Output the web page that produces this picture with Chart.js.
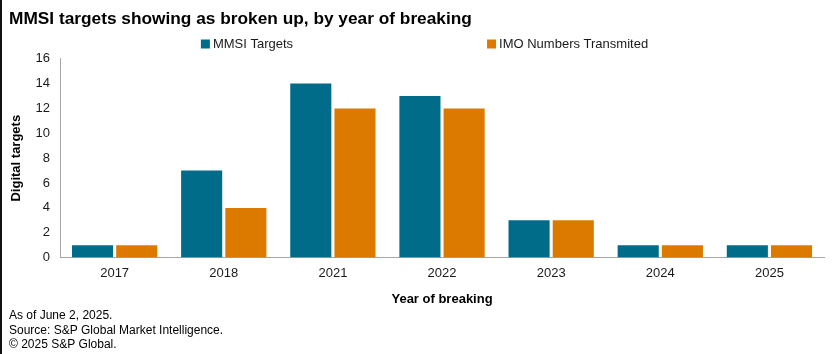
<!DOCTYPE html>
<html>
<head>
<meta charset="utf-8">
<script src="https://cdn.jsdelivr.net/npm/chart.js@4/dist/chart.umd.min.js"></script>
<style>
html,body{margin:0;padding:0;background:#fff;}
#wrap{position:relative;width:837px;height:354px;box-sizing:border-box;border-left:2px solid #111;}
canvas{display:block;}
</style>
</head>
<body>
<div id="wrap"><canvas id="c" width="835" height="354"></canvas></div>
<script>
const categories = ["2017","2018","2021","2022","2023","2024","2025"];
const mmsiTargets = [1,7,14,13,3,1,1];
const imoNumbers = [1,4,12,12,3,1,1];
const yTicks = [0,2,4,6,8,10,12,14,16];
const titleText = "MMSI targets showing as broken up, by year of breaking";
const footerLines = ["As of June 2, 2025.","Source: S&P Global Market Intelligence.","\u00a9 2025 S&P Global."];

const FONT = "Arial, 'Liberation Sans', sans-serif";
Chart.defaults.font.family = FONT;
Chart.defaults.color = "#1a1a1a";

const spacedLegend = {
  id: 'spacedLegend',
  afterDraw(chart) {
    const ctx = chart.ctx;
    const items = chart.data.datasets.map(d => ({label: d.label, color: d.backgroundColor}));
    const box = 9, gapText = 3, gapItems = 194, y = 44;
    ctx.save();
    ctx.font = "13px " + FONT;
    const widths = items.map(it => box + gapText + ctx.measureText(it.label).width);
    const total = widths.reduce((a, b) => a + b, 0) + gapItems * (items.length - 1);
    let x = chart.width / 2 + 5 - total / 2;
    ctx.textBaseline = 'middle';
    ctx.textAlign = 'left';
    items.forEach((it, i) => {
      ctx.fillStyle = it.color;
      ctx.fillRect(x, y - box / 2, box, box);
      ctx.fillStyle = "#1a1a1a";
      ctx.fillText(it.label, x + box + gapText, y + 0.5);
      x += widths[i] + gapItems;
    });
    ctx.restore();
  }
};

new Chart(document.getElementById('c'), {
  type: 'bar',
  data: {
    labels: categories,
    datasets: [
      {label: "MMSI Targets", data: mmsiTargets, backgroundColor: "#006c89"},
      {label: "IMO Numbers Transmited", data: imoNumbers, backgroundColor: "#dc7a00"}
    ]
  },
  plugins: [spacedLegend],
  options: {
    responsive: false,
    animation: false,
    categoryPercentage: 0.81,
    barPercentage: 0.93,
    layout: {padding: {left: 7, right: 13, top: 9, bottom: 2}},
    plugins: {
      title: {
        display: true, text: titleText, align: 'start',
        font: {size: 17.3, weight: 'bold', family: FONT}, color: "#000",
        padding: {top: 0, bottom: 29}
      },
      subtitle: {
        display: true, text: footerLines, position: 'bottom', align: 'start',
        font: {size: 12, family: FONT}, color: "#000", padding: {top: 2, bottom: 0}
      },
      legend: {display: false},
      tooltip: {enabled: false}
    },
    scales: {
      x: {
        grid: {display: false, drawTicks: false},
        border: {display: true, color: "#a6a6a6", width: 1},
        ticks: {font: {size: 13}, color: "#1a1a1a", padding: 8},
        title: {display: true, text: "Year of breaking", font: {size: 13, weight: 'bold'}, color: "#000", padding: {top: 2, bottom: 0}}
      },
      y: {
        min: 0, max: 16,
        afterBuildTicks: (axis) => { axis.ticks = yTicks.map(v => ({value: v})); },
        grid: {display: false, drawTicks: false},
        border: {display: true, color: "#a6a6a6", width: 1},
        ticks: {font: {size: 13}, color: "#1a1a1a", padding: 10, autoSkip: false},
        title: {display: true, text: "Digital targets", font: {size: 13, weight: 'bold'}, color: "#000", padding: {top: 0, bottom: 1}}
      }
    }
  }
});
</script>
</body>
</html>
